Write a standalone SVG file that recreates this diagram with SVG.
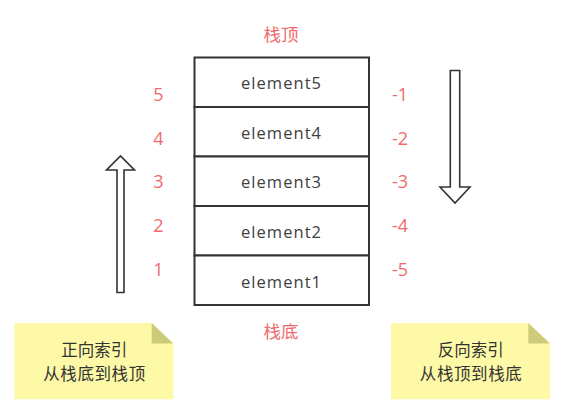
<svg xmlns="http://www.w3.org/2000/svg" width="572" height="404" viewBox="0 0 572 404">
<style>
.cell{fill:#fff;stroke:#333;stroke-width:2}
.el{font-family:"Open Sans","Liberation Sans",sans-serif;font-size:16.5px;fill:#404040;text-anchor:middle}
.red{font-family:"Open Sans","Liberation Sans",sans-serif;font-size:18px;fill:#ef6b6b;text-anchor:middle}
.redcn{font-family:"Noto Sans CJK SC",sans-serif;font-size:17.5px;fill:#ef6b6b;text-anchor:middle;dominant-baseline:central}
.arrow{fill:#fff;stroke:#333;stroke-width:1.6;stroke-linejoin:miter}
.note{fill:#fdf9a6}
.fold{fill:#cdcb7a}
.nt{font-family:"Noto Sans CJK SC",sans-serif;font-size:16.5px;fill:#333;text-anchor:middle;dominant-baseline:central}
</style>
<rect width="572" height="404" fill="#fff"/>
<g id="stack">
  <g id="e5"><rect class="cell" x="194.5" y="57.5" width="174.5" height="49.5"/><text class="el" x="281" y="89" textLength="80" lengthAdjust="spacing">element5</text></g>
  <g id="e4"><rect class="cell" x="194.5" y="107" width="174.5" height="49.5"/><text class="el" x="281" y="139" textLength="80" lengthAdjust="spacing">element4</text></g>
  <g id="e3"><rect class="cell" x="194.5" y="156.5" width="174.5" height="49.5"/><text class="el" x="281" y="188" textLength="80" lengthAdjust="spacing">element3</text></g>
  <g id="e2"><rect class="cell" x="194.5" y="206" width="174.5" height="49.5"/><text class="el" x="281" y="238" textLength="80" lengthAdjust="spacing">element2</text></g>
  <g id="e1"><rect class="cell" x="194.5" y="255.5" width="174.5" height="49.5"/><text class="el" x="281" y="287.5" textLength="80" lengthAdjust="spacing">element1</text></g>
</g>
<g id="labels">
  <text class="redcn" x="281" y="33.5">栈顶</text>
  <text class="redcn" x="281" y="330">栈底</text>
  <text class="red" x="158.5" y="100.5">5</text>
  <text class="red" x="158.5" y="144.5">4</text>
  <text class="red" x="158.5" y="188">3</text>
  <text class="red" x="158.5" y="232">2</text>
  <text class="red" x="158.5" y="275.5">1</text>
  <text class="red" x="400" y="100.5">-1</text>
  <text class="red" x="400" y="144.5">-2</text>
  <text class="red" x="400" y="188">-3</text>
  <text class="red" x="400" y="232">-4</text>
  <text class="red" x="400" y="275.5">-5</text>
</g>
<g id="connectors">
  <polygon class="arrow" points="117,292.5 117,170 106.5,170 120.5,156 134.5,170 124,170 124,292.5"/>
  <polygon class="arrow" points="450.3,70.5 459.7,70.5 459.7,187 470,187 455,203 440,187 450.3,187"/>
</g>
<g id="note-left">
  <polygon class="note" points="14.5,323 151.7,323 173.3,343.5 173.3,399.3 14.5,399.3"/>
  <polygon class="fold" points="151.7,323 151.7,343.5 173.3,343.5"/>
  <text class="nt" x="94.2" y="349" textLength="66" lengthAdjust="spacing">正向索引</text>
  <text class="nt" x="94.2" y="373" textLength="102" lengthAdjust="spacing">从栈底到栈顶</text>
</g>
<g id="note-right">
  <polygon class="note" points="391,323 528.3,323 550,343.5 550,399.3 391,399.3"/>
  <polygon class="fold" points="528.3,323 528.3,343.5 550,343.5"/>
  <text class="nt" x="470.8" y="349" textLength="66" lengthAdjust="spacing">反向索引</text>
  <text class="nt" x="470.8" y="373" textLength="102" lengthAdjust="spacing">从栈顶到栈底</text>
</g>
</svg>
